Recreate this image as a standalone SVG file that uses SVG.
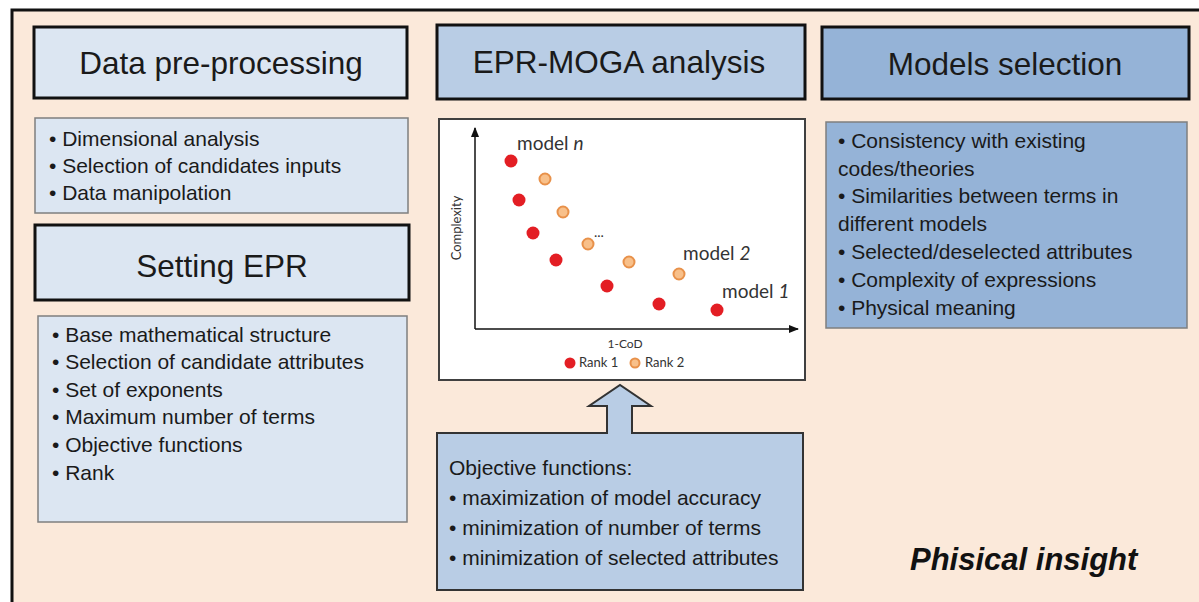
<svg xmlns="http://www.w3.org/2000/svg" width="1199" height="602" viewBox="0 0 1199 602">
<defs>
<style>
.hdr{stroke:#111;stroke-width:3}
.lst{stroke:#7f7f7f;stroke-width:1.5}
.h{font-family:"Liberation Sans",Arial,sans-serif;font-size:31.5px;fill:#1a1a1a;text-anchor:middle}
.b{font-family:"Liberation Sans",Arial,sans-serif;font-size:21px;fill:#1a1a1a}
.o{font-family:"Liberation Sans",Arial,sans-serif;font-size:21px;fill:#1a1a1a}
.p{font-family:Lato,"Open Sans",sans-serif;fill:#333}
.r{fill:#e31e24}
.g{fill:#f8c08a;stroke:#e8914a;stroke-width:2}
</style>
<marker id="ah" viewBox="0 0 10 10" refX="9" refY="5" markerWidth="7" markerHeight="7" orient="auto-start-reverse">
<path d="M0,1 L10,5 L0,9 z" fill="#111"/>
</marker>
</defs>
<rect x="0" y="0" width="1199" height="602" fill="#fff"/>
<rect x="12" y="10" width="1200" height="600" fill="#fbe9da" stroke="#111" stroke-width="3"/>

<g id="data-header">
<rect class="hdr" x="34" y="27" width="373" height="71" fill="#dce6f2"/>
<text class="h" x="221" y="74">Data pre-processing</text>
</g>
<g id="data-list">
<rect class="lst" x="35" y="118" width="373" height="95" fill="#dce6f2"/>
<text class="b" x="49" y="146">• Dimensional analysis</text>
<text class="b" x="49" y="173">• Selection of candidates inputs</text>
<text class="b" x="49" y="200">• Data manipolation</text>
</g>
<g id="setting-header">
<rect class="hdr" x="35" y="225" width="374" height="75" fill="#dce6f2"/>
<text class="h" x="222" y="277">Setting EPR</text>
</g>
<g id="setting-list">
<rect class="lst" x="38" y="316" width="369" height="206" fill="#dce6f2"/>
<text class="b" x="52" y="342">• Base mathematical structure</text>
<text class="b" x="52" y="369">• Selection of candidate attributes</text>
<text class="b" x="52" y="397">• Set of exponents</text>
<text class="b" x="52" y="424">• Maximum number of terms</text>
<text class="b" x="52" y="452">• Objective functions</text>
<text class="b" x="52" y="480">• Rank</text>
</g>

<g id="moga-header">
<rect class="hdr" x="437" y="25" width="368" height="74" fill="#b9cde5"/>
<text class="h" x="619" y="73">EPR-MOGA analysis</text>
</g>
<g id="plot">
<rect x="439" y="119" width="366" height="261" fill="#fff" stroke="#404040" stroke-width="2"/>
<line x1="475" y1="329" x2="475" y2="128" stroke="#111" stroke-width="1.5" marker-end="url(#ah)"/>
<line x1="475" y1="329" x2="798" y2="329" stroke="#111" stroke-width="1.5" marker-end="url(#ah)"/>
<text class="p" font-size="13" transform="translate(461,228) rotate(-90)" text-anchor="middle">Complexity</text>
<circle class="r" cx="511" cy="161" r="6.5"/>
<circle class="r" cx="519" cy="200" r="6.5"/>
<circle class="r" cx="533" cy="233" r="6.5"/>
<circle class="r" cx="556" cy="260" r="6.5"/>
<circle class="r" cx="607" cy="286" r="6.5"/>
<circle class="r" cx="659" cy="304" r="6.5"/>
<circle class="r" cx="717" cy="310" r="6.5"/>
<circle class="g" cx="545" cy="179" r="5.5"/>
<circle class="g" cx="563" cy="212" r="5.5"/>
<circle class="g" cx="588" cy="244" r="5.5"/>
<circle class="g" cx="629" cy="262" r="5.5"/>
<circle class="g" cx="679" cy="274" r="5.5"/>
<text class="p" font-size="14" x="594" y="237">...</text>
<text class="p" font-size="19" x="517" y="150">model <tspan font-style="italic">n</tspan></text>
<text class="p" font-size="19" x="683" y="260">model <tspan font-style="italic">2</tspan></text>
<text class="p" font-size="19" x="722" y="298">model <tspan font-style="italic">1</tspan></text>
<text class="p" font-size="12" x="625" y="348" text-anchor="middle">1-CoD</text>
<circle class="r" cx="570" cy="363" r="5.5"/>
<text class="p" font-size="13" x="579" y="367">Rank 1</text>
<circle class="g" cx="635" cy="363" r="4.5"/>
<text class="p" font-size="13" x="645" y="367">Rank 2</text>
</g>
<g id="objectives">
<path d="M437,433 L607,433 L607,406 L589,406 L620,385 L651,406 L632,406 L632,433 L803,433 L803,590 L437,590 Z" fill="#b9cde5" stroke="#333" stroke-width="2"/>
<text class="o" x="449" y="475">Objective functions:</text>
<text class="o" x="449" y="505">• maximization of model accuracy</text>
<text class="o" x="449" y="535">• minimization of number of terms</text>
<text class="o" x="449" y="565">• minimization of selected attributes</text>
</g>

<g id="models-header">
<rect class="hdr" x="822" y="27" width="367" height="72" fill="#95b3d7"/>
<text class="h" x="1005" y="75">Models selection</text>
</g>
<g id="models-list">
<rect class="lst" x="826" y="122" width="361" height="206" fill="#95b3d7"/>
<text class="b" x="838" y="148">• Consistency with existing</text>
<text class="b" x="838" y="176">codes/theories</text>
<text class="b" x="838" y="203">• Similarities between terms in</text>
<text class="b" x="838" y="231">different models</text>
<text class="b" x="838" y="259">• Selected/deselected attributes</text>
<text class="b" x="838" y="287">•  Complexity of expressions</text>
<text class="b" x="838" y="315">• Physical meaning</text>
</g>
<g id="insight">
<text x="910" y="570" font-family="Liberation Sans,Arial,sans-serif" font-size="31" font-weight="bold" font-style="italic" fill="#111">Phisical insight</text>
</g>
<g id="connectors"></g>
</svg>
